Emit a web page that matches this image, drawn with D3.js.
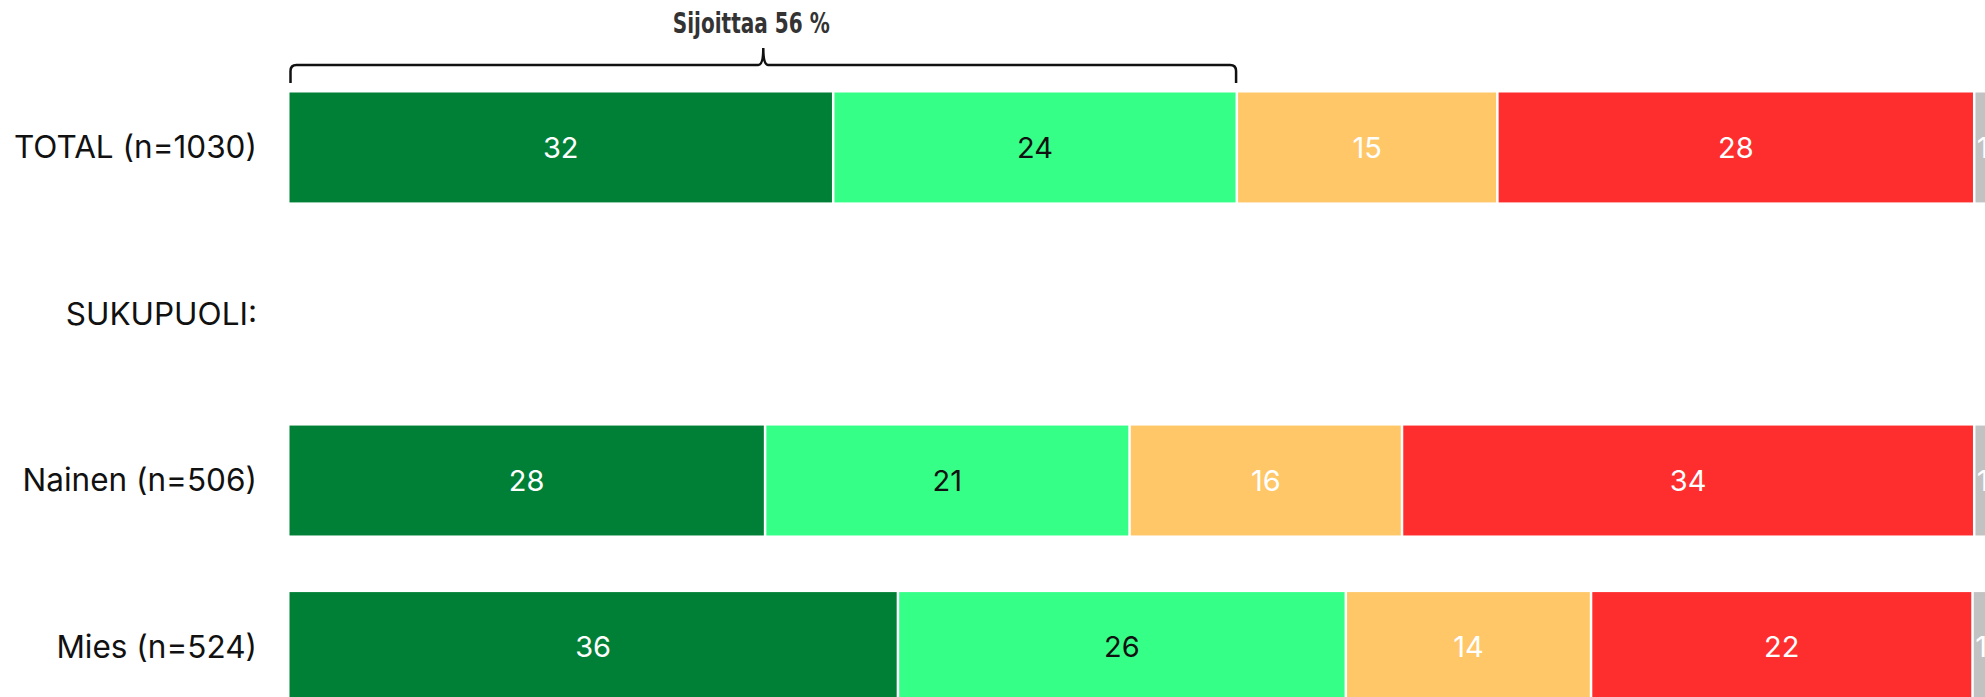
<!DOCTYPE html>
<html>
<head>
<meta charset="utf-8">
<script src="https://cdn.jsdelivr.net/npm/d3@7"></script>
<style>
	body { margin: 0; background: #fff; overflow: hidden; }
	.rowlabel { font-family: Inter, "Noto Sans", sans-serif; font-size: 31.5px; fill: #111; }
	.vallabel { font-family: Inter, "Noto Sans", sans-serif; font-size: 29px; }
	.brace { font-family: "DejaVu Sans", sans-serif; font-weight: bold; font-size: 29px; fill: #333; }
</style>
</head>
<body>
<div id="chart"></div>
<script>
// rows (empty values = heading row)
var categories = ["TOTAL (n=1030)", "SUKUPUOLI:", "Nainen (n=506)", "Mies (n=524)"];

// shares, %
var s1 = [32.0, null, 28.0, 35.8];
var s2 = [23.7, null, 21.4, 26.3];
var s3 = [15.3, null, 16.0, 14.4];
var s4 = [28.0, null, 33.6, 22.4];
var s5 = [1.0, null, 1.0, 1.0];

var seriesValues = [s1, s2, s3, s4, s5];
var seriesColors = ["#007f36", "#36ff88", "#ffc768", "#ff2e2e", "#c2c2c2"];
var labelColors = ["#fff", "#111", "#fff", "#fff", "#fff"];

var braceLabel = "Sijoittaa 56 %";

var width = 1985, height = 697;

var svg = d3.select("#chart").append("svg")
	.attr("width", width)
	.attr("height", height);

var x = d3.scaleLinear()
	.domain([0, 100])
	.range([289.5, 289.5 + 1703]);

var y = d3.scaleBand()
	.domain(categories)
	.range([92.5, 702])
	.paddingInner(0.34)
	.paddingOuter(0);

// row labels
svg.selectAll("text.rowlabel")
	.data(categories).enter().append("text")
	.attr("class", "rowlabel")
	.attr("text-anchor", "end")
	.attr("x", 257)
	.attr("y", function (d) { return y(d) + y.bandwidth() / 2; })
	.attr("dy", "0.34em")
	.text(function (d) { return d; });

// segments
categories.forEach(function (cat, i) {
	var start = 0;
	seriesValues.forEach(function (vals, k) {
		var v = vals[i];
		if (v == null) return;
		var x0 = start, x1 = start + v;
		start = x1;
		svg.append("rect")
			.attr("x", x(x0))
			.attr("y", y(cat))
			.attr("width", Math.max(0, x(x1) - x(x0) - 2.5))
			.attr("height", y.bandwidth())
			.attr("fill", seriesColors[k]);
		svg.append("text")
			.attr("class", "vallabel")
			.attr("text-anchor", "middle")
			.attr("x", (x(x0) + x(x1) - 2.5) / 2)
			.attr("y", y(cat) + y.bandwidth() / 2)
			.attr("dy", "0.36em")
			.attr("fill", labelColors[k])
			.text(Math.round(v));
	});
});

// brace over the first two segments of TOTAL
var bx0 = x(0) + 1, bx1 = x(s1[0] + s2[0]) - 2;
var by = 65, bend = 83, r = 6, tip = 48;
var bm = (bx0 + bx1) / 2;
var bracePath = "M" + bx0 + "," + bend +
	" L" + bx0 + "," + (by + r) +
	" Q" + bx0 + "," + by + " " + (bx0 + r) + "," + by +
	" L" + (bm - 5) + "," + by +
	" Q" + bm + "," + by + " " + bm + "," + tip +
	" Q" + bm + "," + by + " " + (bm + 5) + "," + by +
	" L" + (bx1 - r) + "," + by +
	" Q" + bx1 + "," + by + " " + bx1 + "," + (by + r) +
	" L" + bx1 + "," + bend;

svg.append("path")
	.attr("d", bracePath)
	.attr("fill", "none")
	.attr("stroke", "#111")
	.attr("stroke-width", 2.5);

// condensed look: squeeze the bold label to the reference width
svg.append("text")
	.attr("class", "brace")
	.attr("text-anchor", "middle")
	.attr("x", bm - 12)
	.attr("y", 33)
	.attr("textLength", 157)
	.attr("lengthAdjust", "spacingAndGlyphs")
	.text(braceLabel);
</script>
</body>
</html>
